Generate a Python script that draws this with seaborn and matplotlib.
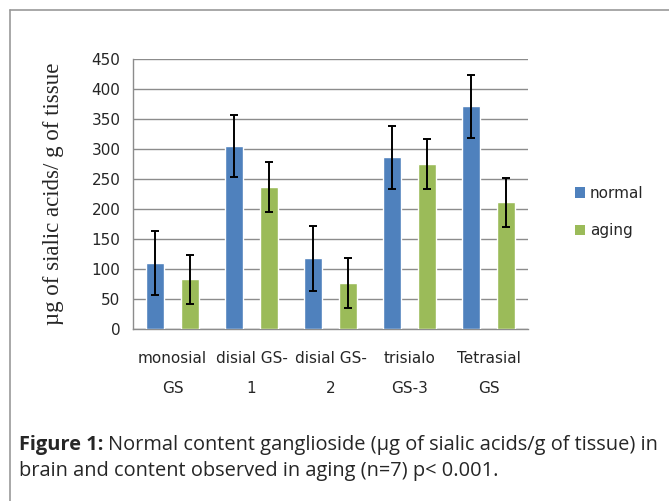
import numpy as np
import pandas as pd
import matplotlib
matplotlib.use('Agg')
import matplotlib.pyplot as plt
import seaborn as sns
from matplotlib.patches import Patch
from matplotlib.lines import Line2D

# ── data ─────────────────────────────────────────────────────
categories = ['monosial\nGS', 'disial GS-\n1', 'disial GS-\n2', 'trisialo\nGS-3', 'Tetrasial\nGS']
normal = [110, 305, 118, 286, 371]
aging = [83, 237, 77, 275, 211]
normal_err = [53, 52, 54, 52, 53]
aging_err = [41, 42, 42, 41, 41]
series = ['normal', 'aging']
colors = ['#4F81BD', '#9BBB59']
grid_col = '#8C8C8C'

df = pd.DataFrame({
    'group': categories * 2,
    'series': [series[0]] * len(categories) + [series[1]] * len(categories),
    'value': normal + aging,
})

sns.set_style('white')
plt.rcParams['font.family'] = ['DejaVu Sans']

fig = plt.figure(figsize=(6.69, 5.01), dpi=100)
ax = fig.add_axes([133/669, 1 - 329/501, (528-133)/669, (329-59)/501])

sns.barplot(data=df, x='group', y='value', hue='series', hue_order=series,
            palette=colors, saturation=1, width=0.88, gap=0.49, errorbar=None,
            legend=False, ax=ax, zorder=3)

# error bars on top of each bar
for cont, errs in zip(ax.containers, [normal_err, aging_err]):
    xs = [b.get_x() + b.get_width() / 2 for b in cont]
    hs = [b.get_height() for b in cont]
    ax.errorbar(xs, hs, yerr=errs, fmt='none', ecolor='black',
                elinewidth=1.4, capsize=3, capthick=1.4, zorder=4)

ax.set_ylim(0, 450)
ax.set_xlim(-0.5, len(categories) - 0.5)
ax.set_yticks(np.arange(0, 451, 50))
ax.yaxis.grid(True, color=grid_col, lw=1, zorder=0)
ax.xaxis.grid(False)
ax.set_axisbelow(True)
for s in ['top', 'right']:
    ax.spines[s].set_visible(False)
for s in ['left', 'bottom']:
    ax.spines[s].set_color(grid_col)
    ax.spines[s].set_linewidth(1)

# category labels at centres, tick marks at boundaries
ax.set_xticks(np.arange(-0.5, len(categories), 1.0))
ax.set_xticklabels([])
ax.set_xticks(np.arange(len(categories)), minor=True)
ax.set_xticklabels(categories, minor=True, fontsize=11, linespacing=2.25)
ax.tick_params(axis='x', which='major', length=6, color=grid_col, direction='out')
ax.tick_params(axis='x', which='minor', length=0, pad=16)
ax.tick_params(axis='y', length=6, color=grid_col, labelsize=11, pad=3)
ax.set_xlabel('')
ax.set_ylabel('µg of sialic acids/ g of tissue', family='Liberation Serif',
              fontsize=16.5, labelpad=20)

handles = [Patch(facecolor=c, edgecolor='none') for c in colors]
fig.legend(handles, series, loc='center left', bbox_to_anchor=(561/669, 1 - 212/501),
           frameon=False, fontsize=11, handlelength=0.7, handleheight=0.7,
           handletextpad=0.3, labelspacing=1.5)

# outer frame (left and top edges)
fig.add_artist(Line2D([10/669, 10/669], [0, 1 - 10/501], color='#999999', lw=1.2))
fig.add_artist(Line2D([10/669, 1], [1 - 10/501, 1 - 10/501], color='#999999', lw=1.2))

# caption with bold lead-in
cap_font = 'Open Sans'
cap_size = 14.4
t1 = fig.text(19/669, 1 - 445/501, 'Figure 1:', family=cap_font, fontsize=cap_size,
              fontweight='bold', va='center')
fig.canvas.draw()
bb = t1.get_window_extent().transformed(fig.transFigure.inverted())
fig.text(bb.x1 + 5/669, 1 - 445/501, 'Normal content ganglioside (µg of sialic acids/g of tissue) in',
         family=cap_font, fontsize=cap_size, va='center')
fig.text(19/669, 1 - 471/501, 'brain and content observed in aging (n=7) p< 0.001.',
         family=cap_font, fontsize=cap_size, va='center')

plt.savefig('out.png', dpi=100)
